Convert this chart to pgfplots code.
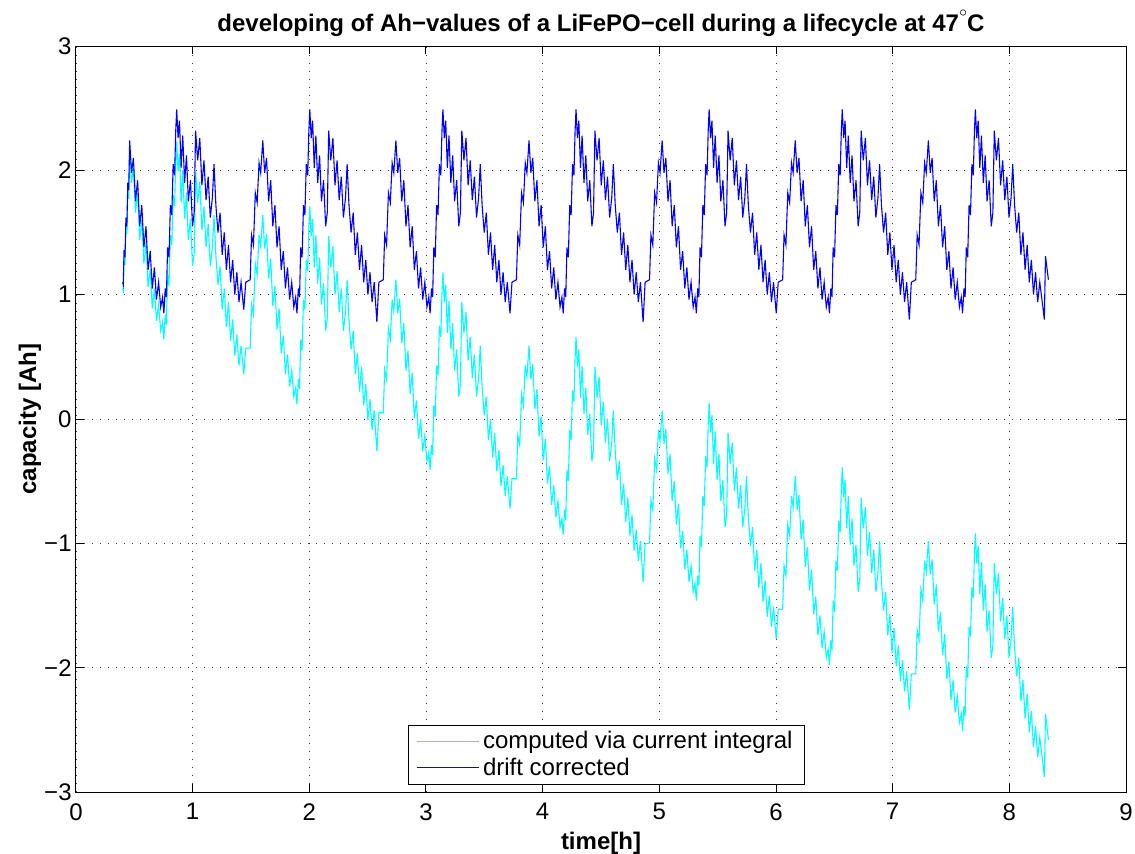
\documentclass[border=0pt]{standalone}
\usepackage{fontspec}
\setmainfont{Liberation Sans}
\usepackage{pgfplots}
\usepackage{pgfplotstable}
\pgfplotsset{compat=1.18}
\definecolor{mcyan}{rgb}{0,1,1}
\definecolor{mblue}{rgb}{0,0,1}

% time [h], drift corrected [Ah], computed via current integral [Ah]
\pgfplotstableread{
t b c
0.400 1.10 1.05
0.405 1.08 1.03
0.412 1.36 1.31
0.420 1.30 1.24
0.428 1.62 1.56
0.436 1.55 1.49
0.444 1.90 1.83
0.452 1.84 1.77
0.460 2.24 2.17
0.476 1.98 1.90
0.492 2.10 2.02
0.510 1.75 1.66
0.528 1.92 1.82
0.546 1.55 1.44
0.564 1.72 1.60
0.582 1.38 1.25
0.600 1.55 1.42
0.618 1.20 1.06
0.636 1.35 1.20
0.654 1.05 0.89
0.672 1.22 1.05
0.690 0.96 0.79
0.708 1.10 0.92
0.726 0.90 0.71
0.742 0.98 0.78
0.753 0.85 0.64
0.765 1.05 0.84
0.775 0.98 0.76
0.785 1.38 1.16
0.797 1.30 1.07
0.809 1.72 1.48
0.821 1.64 1.40
0.833 2.05 1.80
0.845 1.96 1.71
0.855 2.32 2.06
0.863 2.49 2.23
0.875 2.26 1.99
0.887 2.40 2.13
0.901 2.02 1.74
0.915 2.28 2.00
0.931 1.90 1.61
0.947 2.12 1.82
0.963 1.75 1.44
0.981 1.92 1.61
0.999 1.55 1.23
1.013 1.66 1.33
1.025 2.32 1.99
1.043 2.08 1.74
1.061 2.26 1.91
1.079 1.88 1.52
1.097 2.08 1.71
1.115 1.76 1.38
1.133 1.95 1.57
1.151 1.62 1.23
1.169 1.78 1.38
1.183 2.05 1.64
1.199 1.72 1.31
1.217 1.50 1.08
1.235 1.66 1.23
1.253 1.32 0.88
1.271 1.50 1.05
1.289 1.20 0.74
1.307 1.40 0.94
1.325 1.10 0.63
1.343 1.28 0.80
1.361 1.00 0.51
1.379 1.18 0.68
1.397 0.94 0.43
1.415 1.10 0.59
1.438 0.88 0.36
1.455 1.10 0.57
1.493 1.12 0.57
1.505 1.48 0.92
1.521 1.40 0.84
1.537 1.82 1.25
1.553 1.74 1.16
1.569 2.06 1.48
1.583 1.98 1.39
1.601 2.24 1.64
1.617 1.98 1.37
1.633 2.10 1.49
1.651 1.75 1.13
1.669 1.92 1.29
1.687 1.55 0.91
1.705 1.72 1.07
1.723 1.38 0.72
1.741 1.55 0.89
1.759 1.20 0.53
1.777 1.35 0.67
1.795 1.05 0.36
1.813 1.22 0.52
1.831 0.96 0.26
1.849 1.10 0.39
1.867 0.90 0.18
1.883 0.98 0.25
1.894 0.85 0.12
1.906 1.05 0.32
1.916 0.98 0.24
1.926 1.38 0.64
1.938 1.30 0.55
1.950 1.72 0.96
1.962 1.64 0.88
1.974 2.05 1.28
1.986 1.96 1.19
1.996 2.32 1.54
2.004 2.49 1.71
2.016 2.26 1.47
2.028 2.40 1.61
2.042 2.02 1.22
2.056 2.28 1.48
2.072 1.90 1.09
2.088 2.12 1.30
2.104 1.75 0.92
2.122 1.92 1.09
2.140 1.55 0.71
2.154 1.66 0.81
2.166 2.32 1.47
2.184 2.08 1.22
2.202 2.26 1.39
2.220 1.88 1.00
2.238 2.08 1.19
2.256 1.76 0.86
2.274 1.95 1.05
2.292 1.62 0.71
2.310 1.78 0.86
2.324 2.05 1.12
2.340 1.72 0.79
2.358 1.50 0.56
2.376 1.66 0.71
2.394 1.32 0.36
2.412 1.50 0.53
2.430 1.20 0.22
2.448 1.40 0.42
2.466 1.10 0.11
2.484 1.28 0.28
2.502 1.00 -0.01
2.520 1.18 0.16
2.538 0.94 -0.09
2.556 1.10 0.07
2.579 0.78 -0.26
2.596 1.10 0.05
2.634 1.12 0.05
2.646 1.48 0.40
2.662 1.40 0.32
2.678 1.82 0.73
2.694 1.74 0.64
2.710 2.06 0.96
2.724 1.98 0.87
2.742 2.24 1.12
2.758 1.98 0.85
2.774 2.10 0.97
2.792 1.75 0.61
2.810 1.92 0.77
2.828 1.55 0.39
2.846 1.72 0.55
2.864 1.38 0.20
2.882 1.55 0.37
2.900 1.20 0.01
2.918 1.35 0.15
2.936 1.05 -0.16
2.954 1.22 0.00
2.972 0.96 -0.26
2.990 1.10 -0.13
3.008 0.90 -0.34
3.024 0.98 -0.27
3.035 0.85 -0.41
3.047 1.05 -0.21
3.057 0.98 -0.29
3.067 1.38 0.11
3.079 1.30 0.02
3.091 1.72 0.43
3.103 1.64 0.35
3.115 2.05 0.75
3.127 1.96 0.66
3.137 2.32 1.01
3.145 2.49 1.18
3.157 2.26 0.94
3.169 2.40 1.08
3.183 2.02 0.69
3.197 2.28 0.95
3.213 1.90 0.56
3.229 2.12 0.77
3.245 1.75 0.39
3.263 1.92 0.56
3.281 1.55 0.18
3.295 1.66 0.28
3.307 2.32 0.94
3.325 2.08 0.69
3.343 2.26 0.86
3.361 1.88 0.47
3.379 2.08 0.66
3.397 1.76 0.33
3.415 1.95 0.52
3.433 1.62 0.18
3.451 1.78 0.33
3.465 2.05 0.59
3.481 1.72 0.26
3.499 1.50 0.03
3.517 1.66 0.18
3.535 1.32 -0.17
3.553 1.50 0.00
3.571 1.20 -0.31
3.589 1.40 -0.11
3.607 1.10 -0.42
3.625 1.28 -0.25
3.643 1.00 -0.54
3.661 1.18 -0.37
3.679 0.94 -0.62
3.697 1.10 -0.46
3.720 0.85 -0.72
3.737 1.10 -0.48
3.775 1.12 -0.48
3.787 1.48 -0.13
3.803 1.40 -0.21
3.819 1.82 0.20
3.835 1.74 0.11
3.851 2.06 0.43
3.865 1.98 0.34
3.883 2.24 0.59
3.899 1.98 0.32
3.915 2.10 0.44
3.933 1.75 0.08
3.951 1.92 0.24
3.969 1.55 -0.14
3.987 1.72 0.02
4.005 1.38 -0.33
4.023 1.55 -0.16
4.041 1.20 -0.52
4.059 1.35 -0.38
4.077 1.05 -0.69
4.095 1.22 -0.53
4.113 0.96 -0.79
4.131 1.10 -0.66
4.149 0.90 -0.87
4.165 0.98 -0.80
4.176 0.85 -0.93
4.188 1.05 -0.73
4.198 0.98 -0.81
4.208 1.38 -0.41
4.220 1.30 -0.50
4.232 1.72 -0.09
4.244 1.64 -0.17
4.256 2.05 0.23
4.268 1.96 0.14
4.278 2.32 0.49
4.286 2.49 0.66
4.298 2.26 0.42
4.310 2.40 0.56
4.324 2.02 0.17
4.338 2.28 0.43
4.354 1.90 0.04
4.370 2.12 0.25
4.386 1.75 -0.13
4.404 1.92 0.04
4.422 1.55 -0.34
4.436 1.66 -0.24
4.448 2.32 0.42
4.466 2.08 0.17
4.484 2.26 0.34
4.502 1.88 -0.05
4.520 2.08 0.14
4.538 1.76 -0.19
4.556 1.95 0.00
4.574 1.62 -0.34
4.592 1.78 -0.19
4.606 2.05 0.07
4.622 1.72 -0.26
4.640 1.50 -0.49
4.658 1.66 -0.34
4.676 1.32 -0.69
4.694 1.50 -0.52
4.712 1.20 -0.83
4.730 1.40 -0.63
4.748 1.10 -0.94
4.766 1.28 -0.77
4.784 1.00 -1.06
4.802 1.18 -0.89
4.820 0.94 -1.14
4.838 1.10 -0.98
4.861 0.78 -1.31
4.878 1.10 -1.00
4.916 1.12 -1.00
4.928 1.48 -0.65
4.944 1.40 -0.73
4.960 1.82 -0.32
4.976 1.74 -0.41
4.992 2.06 -0.09
5.006 1.98 -0.18
5.024 2.24 0.07
5.040 1.98 -0.20
5.056 2.10 -0.08
5.074 1.75 -0.44
5.092 1.92 -0.28
5.110 1.55 -0.66
5.128 1.72 -0.50
5.146 1.38 -0.85
5.164 1.55 -0.68
5.182 1.20 -1.04
5.200 1.35 -0.90
5.218 1.05 -1.21
5.236 1.22 -1.05
5.254 0.96 -1.31
5.272 1.10 -1.18
5.290 0.90 -1.39
5.306 0.98 -1.32
5.317 0.85 -1.46
5.329 1.05 -1.26
5.339 0.98 -1.34
5.349 1.38 -0.94
5.361 1.30 -1.03
5.373 1.72 -0.62
5.385 1.64 -0.70
5.397 2.05 -0.30
5.409 1.96 -0.39
5.419 2.32 -0.04
5.427 2.49 0.13
5.439 2.26 -0.11
5.451 2.40 0.03
5.465 2.02 -0.36
5.479 2.28 -0.10
5.495 1.90 -0.49
5.511 2.12 -0.28
5.527 1.75 -0.66
5.545 1.92 -0.49
5.563 1.55 -0.87
5.577 1.66 -0.77
5.589 2.32 -0.11
5.607 2.08 -0.36
5.625 2.26 -0.19
5.643 1.88 -0.58
5.661 2.08 -0.39
5.679 1.76 -0.72
5.697 1.95 -0.53
5.715 1.62 -0.87
5.733 1.78 -0.72
5.747 2.05 -0.46
5.763 1.72 -0.79
5.781 1.50 -1.02
5.799 1.66 -0.87
5.817 1.32 -1.22
5.835 1.50 -1.05
5.853 1.20 -1.36
5.871 1.40 -1.16
5.889 1.10 -1.47
5.907 1.28 -1.30
5.925 1.00 -1.59
5.943 1.18 -1.42
5.961 0.94 -1.67
5.979 1.10 -1.51
6.002 0.85 -1.77
6.019 1.10 -1.53
6.057 1.12 -1.53
6.069 1.48 -1.18
6.085 1.40 -1.26
6.101 1.82 -0.85
6.117 1.74 -0.94
6.133 2.06 -0.62
6.147 1.98 -0.71
6.165 2.24 -0.46
6.181 1.98 -0.73
6.197 2.10 -0.61
6.215 1.75 -0.97
6.233 1.92 -0.81
6.251 1.55 -1.19
6.269 1.72 -1.03
6.287 1.38 -1.38
6.305 1.55 -1.21
6.323 1.20 -1.57
6.341 1.35 -1.43
6.359 1.05 -1.74
6.377 1.22 -1.58
6.395 0.96 -1.84
6.413 1.10 -1.71
6.431 0.90 -1.92
6.447 0.98 -1.85
6.458 0.85 -1.98
6.470 1.05 -1.78
6.480 0.98 -1.86
6.490 1.38 -1.46
6.502 1.30 -1.55
6.514 1.72 -1.14
6.526 1.64 -1.22
6.538 2.05 -0.82
6.550 1.96 -0.91
6.560 2.32 -0.56
6.568 2.49 -0.39
6.580 2.26 -0.63
6.592 2.40 -0.49
6.606 2.02 -0.88
6.620 2.28 -0.62
6.636 1.90 -1.01
6.652 2.12 -0.80
6.668 1.75 -1.18
6.686 1.92 -1.01
6.704 1.55 -1.39
6.718 1.66 -1.29
6.730 2.32 -0.63
6.748 2.08 -0.88
6.766 2.26 -0.71
6.784 1.88 -1.10
6.802 2.08 -0.91
6.820 1.76 -1.24
6.838 1.95 -1.05
6.856 1.62 -1.39
6.874 1.78 -1.24
6.888 2.05 -0.98
6.904 1.72 -1.31
6.922 1.50 -1.54
6.940 1.66 -1.39
6.958 1.32 -1.74
6.976 1.50 -1.57
6.994 1.20 -1.88
7.012 1.40 -1.68
7.030 1.10 -1.99
7.048 1.28 -1.82
7.066 1.00 -2.11
7.084 1.18 -1.94
7.102 0.94 -2.19
7.120 1.10 -2.03
7.143 0.80 -2.34
7.160 1.10 -2.05
7.198 1.12 -2.05
7.210 1.48 -1.70
7.226 1.40 -1.78
7.242 1.82 -1.37
7.258 1.74 -1.46
7.274 2.06 -1.14
7.288 1.98 -1.23
7.306 2.24 -0.98
7.322 1.98 -1.25
7.338 2.10 -1.13
7.356 1.75 -1.49
7.374 1.92 -1.33
7.392 1.55 -1.71
7.410 1.72 -1.55
7.428 1.38 -1.90
7.446 1.55 -1.73
7.464 1.20 -2.09
7.482 1.35 -1.95
7.500 1.05 -2.26
7.518 1.22 -2.10
7.536 0.96 -2.36
7.554 1.10 -2.23
7.572 0.90 -2.44
7.588 0.98 -2.37
7.599 0.85 -2.51
7.611 1.05 -2.31
7.621 0.98 -2.39
7.631 1.38 -1.99
7.643 1.30 -2.08
7.655 1.72 -1.67
7.667 1.64 -1.75
7.679 2.05 -1.35
7.691 1.96 -1.44
7.701 2.32 -1.09
7.709 2.49 -0.92
7.721 2.26 -1.16
7.733 2.40 -1.02
7.747 2.02 -1.41
7.761 2.28 -1.15
7.777 1.90 -1.54
7.793 2.12 -1.33
7.809 1.75 -1.71
7.827 1.92 -1.54
7.845 1.55 -1.92
7.859 1.66 -1.82
7.871 2.32 -1.16
7.889 2.08 -1.41
7.907 2.26 -1.24
7.925 1.88 -1.63
7.943 2.08 -1.44
7.961 1.76 -1.77
7.979 1.95 -1.58
7.997 1.62 -1.92
8.015 1.78 -1.77
8.029 2.05 -1.51
8.045 1.72 -1.84
8.063 1.50 -2.07
8.081 1.66 -1.92
8.099 1.32 -2.27
8.117 1.50 -2.10
8.135 1.20 -2.41
8.153 1.40 -2.21
8.171 1.10 -2.52
8.189 1.28 -2.35
8.207 1.00 -2.64
8.225 1.18 -2.47
8.243 0.94 -2.72
8.261 1.10 -2.56
8.285 0.92 -2.75
8.300 0.80 -2.88
8.310 1.31 -2.37
8.335 1.12 -2.58
}\ahdata

\begin{document}
\begin{tikzpicture}
\path[use as bounding box] (-38pt,-30.5pt) rectangle (529.5pt,396pt);
\begin{axis}[
  scale only axis,
  width=525pt, height=373pt,
  xmin=0, xmax=9, ymin=-3, ymax=3,
  xtick={0,1,...,9}, ytick={-3,-2,...,3},
  yticklabels={−3,−2,−1,0,1,2,3},
  /pgf/number format/assume math mode=true,
  ticklabel style={font=\fontsize{12}{14}\selectfont},
  xticklabel style={inner sep=2pt, yshift=-3.5pt},
  yticklabel style={inner sep=2pt},
  tick align=inside,
  major tick length=4pt,
  tick style={black, line width=0.5pt},
  axis line style={line width=0.5pt},
  grid=major,
  major grid style={black!75, line width=0.4pt, dash pattern=on 0.5pt off 3.5pt},
  title={\bfseries developing of Ah−values of a LiFePO−cell during a lifecycle at 47\raisebox{0.62em}{\fontsize{7}{7}\selectfont$\circ$}C},
  title style={font=\fontsize{12}{14}\selectfont, at={(axis description cs:0.5,1.03)}, anchor=center, yshift=-6pt},
  xlabel={\bfseries time[h]},
  ylabel={\bfseries capacity [Ah]},
  xlabel style={font=\fontsize{12}{14}\selectfont, at={(axis description cs:0.5,-0.069)}, anchor=center},
  ylabel style={font=\fontsize{12}{14}\selectfont, at={(axis description cs:-0.0438,0.5)}, anchor=center},
  legend style={at={(0.505,0.01)}, anchor=south, draw=black, line width=0.5pt,
    fill=white, font=\fontsize{12}{14}\selectfont, inner xsep=4pt, inner ysep=1pt,
    row sep=-1pt},
  legend cell align=left,
  legend image code/.code={\draw[#1, line width=0.5pt] (0pt,0pt) -- (31pt,0pt);},
]
\addplot[mcyan, line width=0.55pt, mark=none] table[x=t, y=c] {\ahdata};
\addplot[mblue, line width=0.55pt, mark=none] table[x=t, y=b] {\ahdata};
\legend{computed via current integral, drift corrected}
\end{axis}
\end{tikzpicture}
\end{document}
